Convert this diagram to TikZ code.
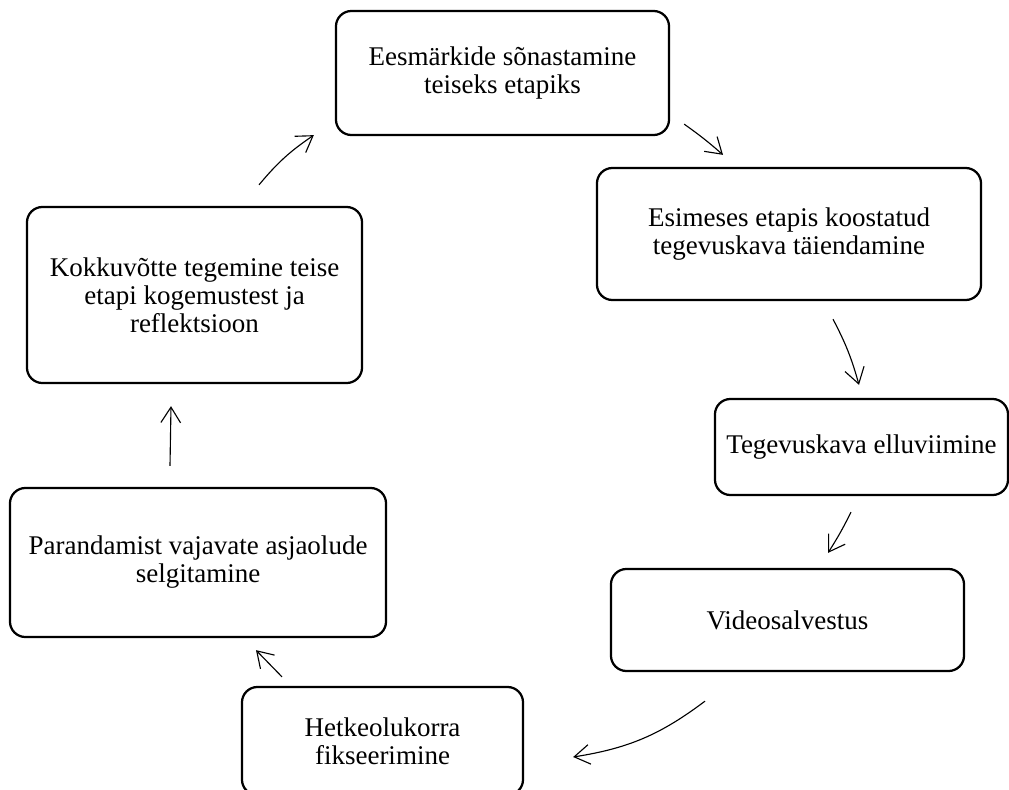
\documentclass[tikz,border=0pt]{standalone}
\usepackage{fontspec}
\setmainfont{Liberation Serif}
\usetikzlibrary{arrows.meta}
\tikzset{
  box/.style={rectangle, draw, line width=1.6pt, rounded corners=11pt, align=center, font=\fontsize{19.2pt}{19.9pt}\selectfont},
  arrow/.style={-{Straight Barb[length=11pt, width=14pt]}, line width=0.8pt}
}

\begin{document}
\begin{tikzpicture}[x=0.025cm, y=-0.025cm]
\useasboundingbox (0,0) rectangle (1009,790);

% Goals
\node[box, minimum width=8.325cm, minimum height=3.1cm] (goals) at (502.5,73) {Eesmärkide sõnastamine\\ teiseks etapiks};

% Plan update
\node[box, minimum width=9.6cm, minimum height=3.3cm] (plan) at (789,234) {Esimeses etapis koostatud\\ tegevuskava täiendamine};

% Carrying out
\node[box, minimum width=7.325cm, minimum height=2.4cm] (carry) at (861.5,447) {Tegevuskava elluviimine};

% Video
\node[box, minimum width=8.825cm, minimum height=2.55cm] (video) at (787.5,620) {Videosalvestus};

% Current state
\node[box, minimum width=7.025cm, minimum height=2.7cm] (state) at (382.5,741) {Hetkeolukorra\\ fikseerimine};

% Issues
\node[box, minimum width=9.4cm, minimum height=3.725cm] (issues) at (198,562.5) {Parandamist vajavate asjaolude\\ selgitamine};

% Summary
\node[box, minimum width=8.375cm, minimum height=4.4cm] (summary) at (194.5,295) {Kokkuvõtte tegemine teise\\ etapi kogemustest ja\\ reflektsioon};

% Cycle arrows
\draw[arrow] ([shift={(64.5,-21)}]summary.north) to[bend left=8] ([shift={(-21,-1)}]goals.south west);
\draw[arrow] ([shift={(14,-12)}]goals.south east) to[bend left=3] ([shift={(-66,-12)}]plan.north);
\draw[arrow] ([shift={(44,18)}]plan.south) to[bend left=6] ([shift={(-2.5,-13)}]carry.north);
\draw[arrow] ([shift={(-10.5,16)}]carry.south) to[bend left=3] ([shift={(40.5,-15)}]video.north);
\draw[arrow] ([shift={(-82.5,29)}]video.south) to[bend left=14] ([shift={(49,16)}]state.east);
\draw[arrow] ([shift={(-100.5,-9)}]state.north) -- ([shift={(58,12)}]issues.south);
\draw[arrow] ([shift={(-28,-21)}]issues.north) -- ([shift={(-23.5,22)}]summary.south);

\end{tikzpicture}
\end{document}
